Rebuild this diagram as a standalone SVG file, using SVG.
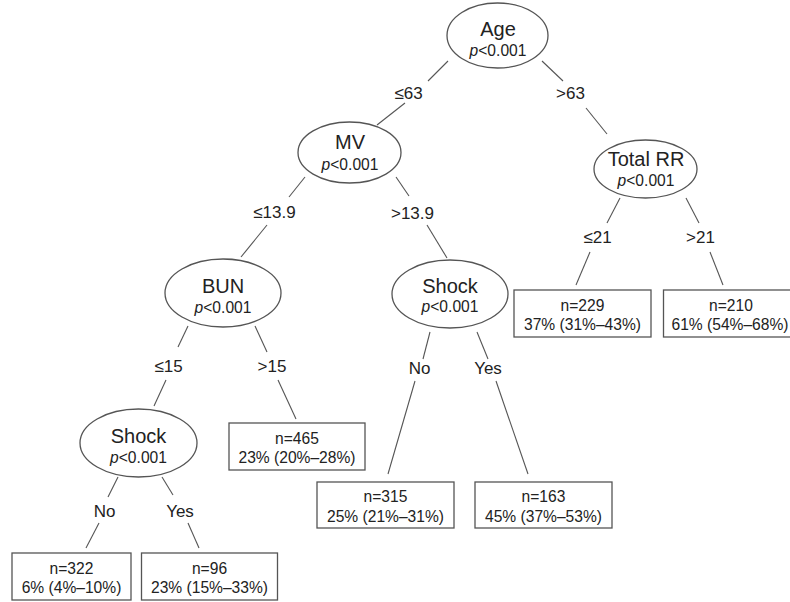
<svg xmlns="http://www.w3.org/2000/svg" width="790" height="602" viewBox="0 0 790 602">
<style>
.bg{fill:#ffffff}
.node ellipse{fill:#ffffff;stroke:#555555;stroke-width:1.3}
.node rect{fill:#ffffff;stroke:#555555;stroke-width:1.3}
text{font-family:"Liberation Sans",Arial,sans-serif;fill:#222222;text-anchor:middle}
.t{font-size:20px}
.p{font-size:15.6px}
.p tspan{font-style:italic}
.b{font-size:15.6px}
.e{font-size:17px}
#edges line{stroke:#555555;stroke-width:1.1}
</style>
<rect class="bg" x="0" y="0" width="790" height="602"/>
<g id="edges">
<line x1="448" y1="61" x2="428" y2="81"/><line x1="405" y1="103" x2="377" y2="125"/>
<text class="e" x="408.5" y="99">≤63</text>
<line x1="542" y1="61" x2="563" y2="81"/><line x1="586" y1="108" x2="607" y2="134"/>
<text class="e" x="570.5" y="99">&gt;63</text>
<line x1="305" y1="177" x2="289" y2="197"/><line x1="267" y1="225" x2="241" y2="257"/>
<text class="e" x="274.5" y="218">≤13.9</text>
<line x1="396" y1="177" x2="409" y2="196"/><line x1="427" y1="225" x2="447" y2="258"/>
<text class="e" x="412.5" y="219">&gt;13.9</text>
<line x1="620" y1="198" x2="607" y2="223"/><line x1="590" y1="252" x2="576" y2="285"/>
<text class="e" x="597.5" y="243">≤21</text>
<line x1="686" y1="198" x2="699" y2="223"/><line x1="710" y1="252" x2="723" y2="285"/>
<text class="e" x="700.5" y="243">&gt;21</text>
<line x1="188" y1="326" x2="178" y2="347"/><line x1="166" y1="380" x2="154" y2="406"/>
<text class="e" x="168.5" y="372">≤15</text>
<line x1="255" y1="326" x2="267" y2="352"/><line x1="278" y1="380" x2="296" y2="419"/>
<text class="e" x="272" y="372">&gt;15</text>
<line x1="430" y1="332" x2="423" y2="359"/><line x1="415" y1="381" x2="388" y2="474"/>
<text class="e" x="419.5" y="374">No</text>
<line x1="477" y1="332" x2="488" y2="359"/><line x1="496" y1="381" x2="528" y2="474"/>
<text class="e" x="488" y="374">Yes</text>
<line x1="118" y1="477" x2="108" y2="497"/><line x1="99" y1="523" x2="86" y2="548"/>
<text class="e" x="104.5" y="517">No</text>
<line x1="162" y1="477" x2="173" y2="495"/><line x1="188" y1="523" x2="199" y2="548"/>
<text class="e" x="180" y="517">Yes</text>
</g>
<g id="node-age" class="node">
<ellipse cx="497.5" cy="35.5" rx="50.5" ry="32.5"/>
<text class="t" x="498" y="36">Age</text>
<text class="p" x="498" y="56"><tspan>p</tspan>&lt;0.001</text>
</g>
<g id="node-mv" class="node">
<ellipse cx="349.5" cy="152.5" rx="51.5" ry="30.5"/>
<text class="t" x="350" y="149">MV</text>
<text class="p" x="350" y="170"><tspan>p</tspan>&lt;0.001</text>
</g>
<g id="node-totalrr" class="node">
<ellipse cx="645.5" cy="169" rx="51.5" ry="29"/>
<text class="t" x="646" y="166">Total RR</text>
<text class="p" x="646" y="186"><tspan>p</tspan>&lt;0.001</text>
</g>
<g id="node-bun" class="node">
<ellipse cx="223" cy="293" rx="58" ry="34"/>
<text class="t" x="223" y="293">BUN</text>
<text class="p" x="223" y="313"><tspan>p</tspan>&lt;0.001</text>
</g>
<g id="node-shock-right" class="node">
<ellipse cx="450" cy="294" rx="58" ry="34"/>
<text class="t" x="450" y="293">Shock</text>
<text class="p" x="450" y="312"><tspan>p</tspan>&lt;0.001</text>
</g>
<g id="node-shock-left" class="node">
<ellipse cx="138.5" cy="443" rx="58.5" ry="34"/>
<text class="t" x="138.5" y="443">Shock</text>
<text class="p" x="138.5" y="463"><tspan>p</tspan>&lt;0.001</text>
</g>
<g id="leaf-229" class="node">
<rect x="514" y="290" width="137" height="47"/>
<text class="b" x="582.5" y="310.5">n=229</text>
<text class="b" x="582.5" y="329.5">37% (31%–43%)</text>
</g>
<g id="leaf-210" class="node">
<rect x="663.5" y="290" width="137" height="47"/>
<text class="b" x="731" y="310.5">n=210</text>
<text class="b" x="730" y="329.5">61% (54%–68%)</text>
</g>
<g id="leaf-465" class="node">
<rect x="229" y="423" width="136" height="47"/>
<text class="b" x="297" y="444">n=465</text>
<text class="b" x="297" y="463">23% (20%–28%)</text>
</g>
<g id="leaf-315" class="node">
<rect x="317" y="482" width="137" height="46"/>
<text class="b" x="385.5" y="502">n=315</text>
<text class="b" x="385.5" y="522">25% (21%–31%)</text>
</g>
<g id="leaf-163" class="node">
<rect x="475" y="482" width="137" height="46"/>
<text class="b" x="543.5" y="502">n=163</text>
<text class="b" x="543.5" y="522">45% (37%–53%)</text>
</g>
<g id="leaf-322" class="node">
<rect x="12" y="553" width="119" height="47"/>
<text class="b" x="71.5" y="573.5">n=322</text>
<text class="b" x="71.5" y="593">6% (4%–10%)</text>
</g>
<g id="leaf-96" class="node">
<rect x="141.5" y="553" width="136" height="47"/>
<text class="b" x="209.5" y="573.5">n=96</text>
<text class="b" x="209.5" y="593">23% (15%–33%)</text>
</g>
</svg>
